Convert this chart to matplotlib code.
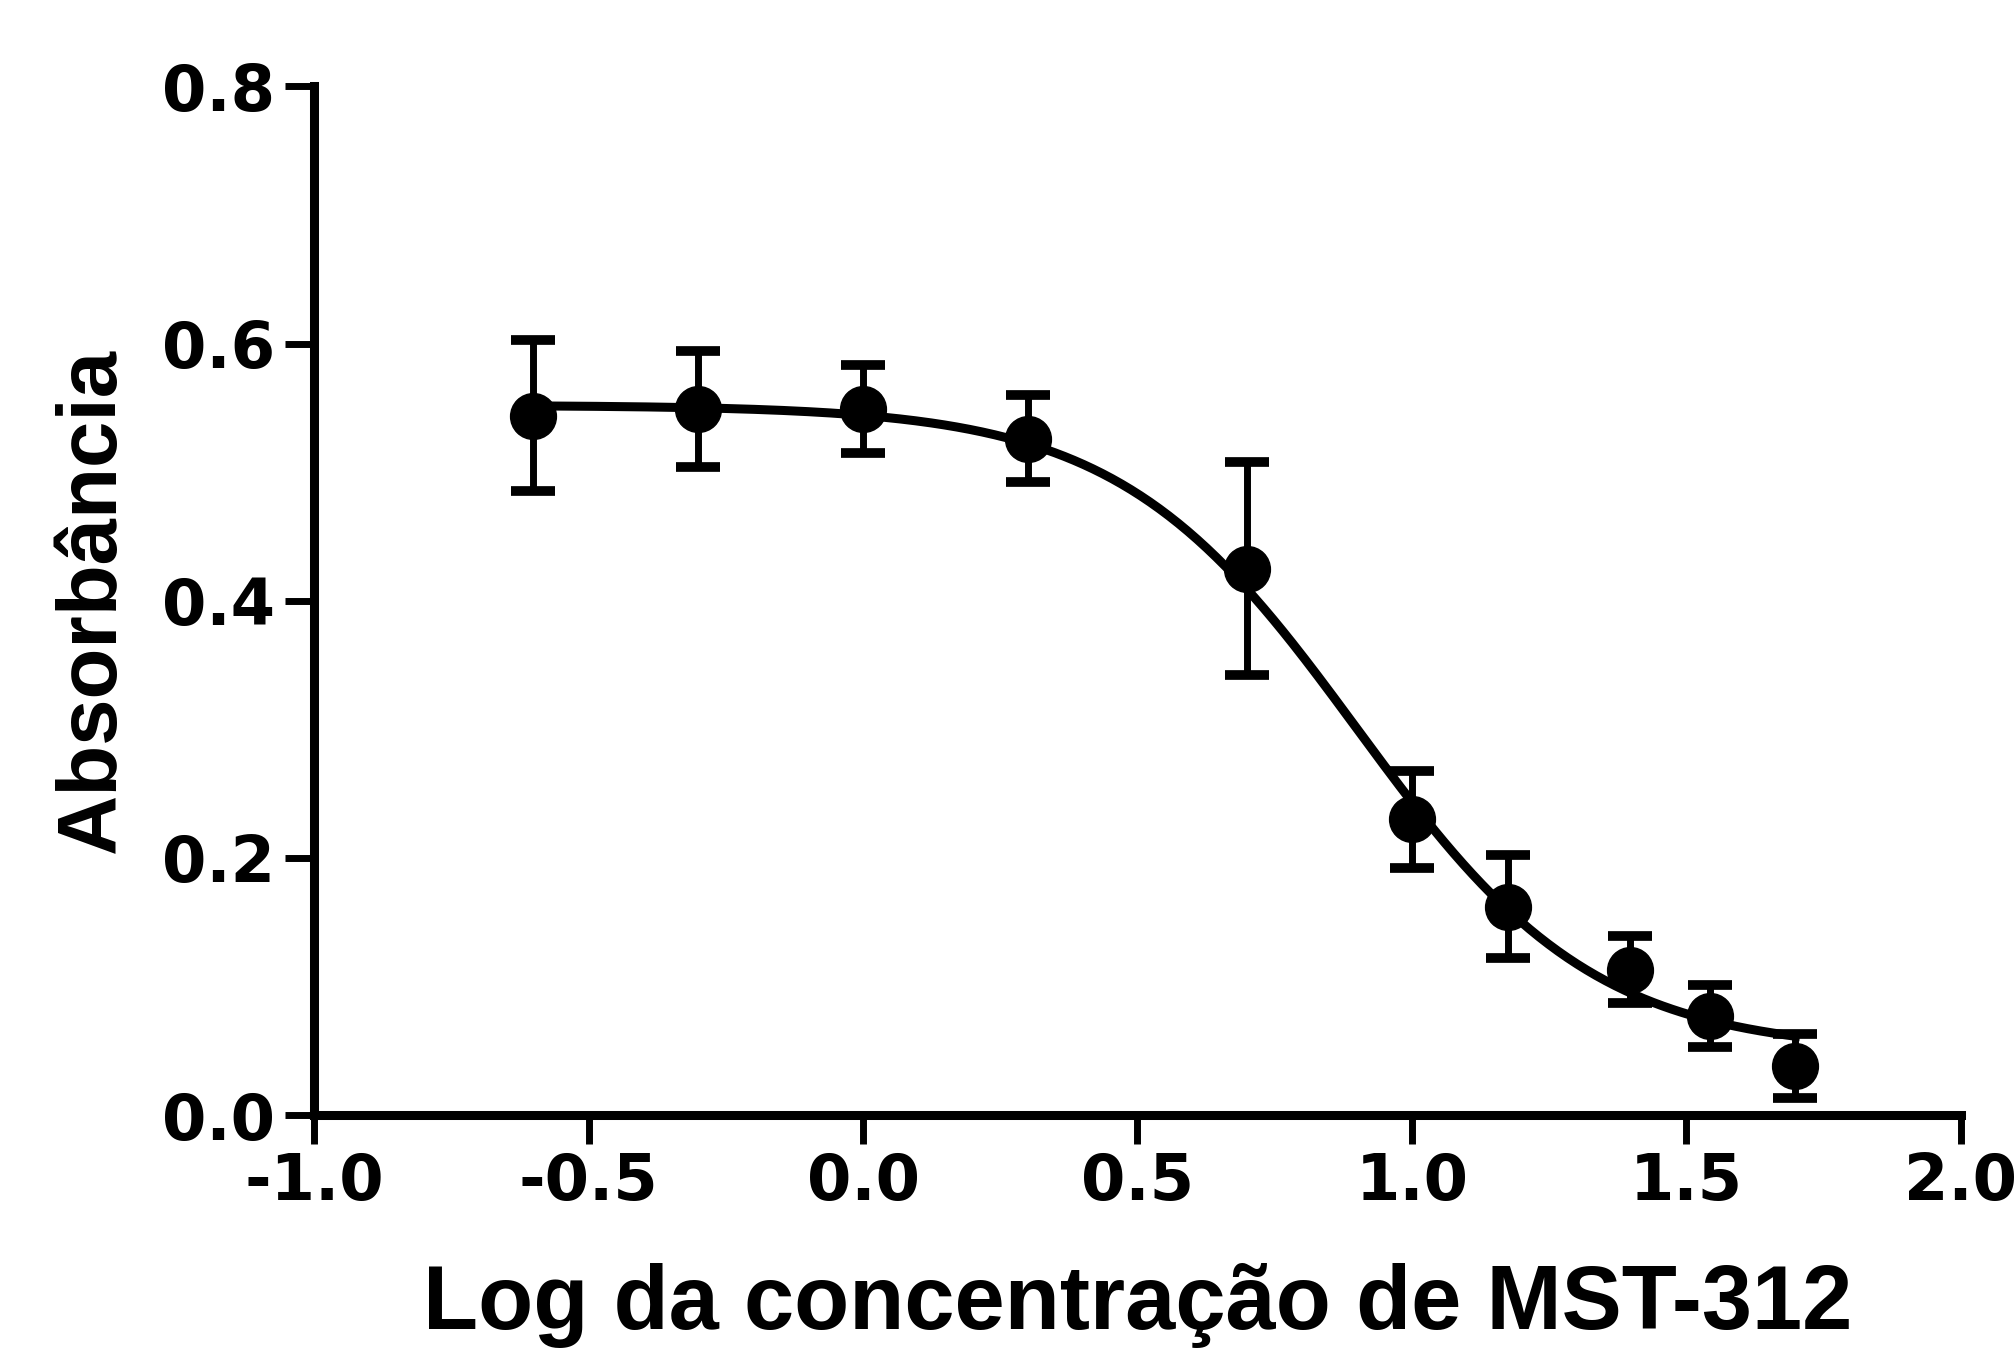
import numpy as np
import matplotlib
matplotlib.use('Agg')
import matplotlib.pyplot as plt

# log of MST-312 concentration and mean absorbance (+/- error)
log_conc = [-0.602, -0.301, 0.0, 0.301, 0.699, 1.0, 1.176, 1.398, 1.544, 1.699]
absorb = [0.544, 0.549, 0.549, 0.526, 0.425, 0.230, 0.162, 0.113, 0.077, 0.038]
absorb_err = [0.059, 0.045, 0.034, 0.034, 0.083, 0.038, 0.040, 0.026, 0.024, 0.025]

# fitted sigmoid (4-parameter logistic)
fit_top = 0.552
fit_bottom = 0.049
fit_log_ic50 = 0.90
fit_hill = 2.0

x_ticks = [-1.0, -0.5, 0.0, 0.5, 1.0, 1.5, 2.0]
y_ticks = [0.0, 0.2, 0.4, 0.6, 0.8]


def four_pl(x):
    return fit_bottom + (fit_top - fit_bottom) / (1 + 10 ** (fit_hill * (x - fit_log_ic50)))


fig = plt.figure(figsize=(20.15, 13.7), dpi=100)
ax = fig.add_axes([0.156, 0.186, 0.817, 0.751])

x_fit = np.linspace(log_conc[0], log_conc[-1], 400)
ax.plot(x_fit, four_pl(x_fit), color='black', lw=6.5, zorder=2)
ax.errorbar(log_conc, absorb, yerr=absorb_err, fmt='o', color='black',
            markersize=33, elinewidth=5, capsize=16, capthick=7, zorder=3)

ax.set_xlim(-1.0, 2.0)
ax.set_ylim(0.0, 0.8)
ax.set_xticks(x_ticks)
ax.set_yticks(y_ticks)
ax.set_xticklabels(['%.1f' % v for v in x_ticks])
ax.set_yticklabels(['%.1f' % v for v in y_ticks])

for side in ['top', 'right']:
    ax.spines[side].set_visible(False)
for side in ['left', 'bottom']:
    ax.spines[side].set_linewidth(6.5)
    ax.spines[side].set_capstyle('projecting')

ax.tick_params(axis='both', length=21, width=5, color='black')
ax.tick_params(axis='y', pad=7)
ax.tick_params(axis='x', pad=5)
for lab in ax.get_xticklabels() + ax.get_yticklabels():
    lab.set_fontfamily('DejaVu Sans')
    lab.set_fontweight('bold')
    lab.set_fontsize(46)

ax.set_xlabel('Log da concentração de MST-312', fontsize=65, fontweight='bold',
              family='Liberation Sans', labelpad=36)
ax.set_ylabel('Absorbância', fontsize=60, fontweight='bold',
              family='Liberation Sans', labelpad=22)

fig.savefig('out.png', dpi=100)
